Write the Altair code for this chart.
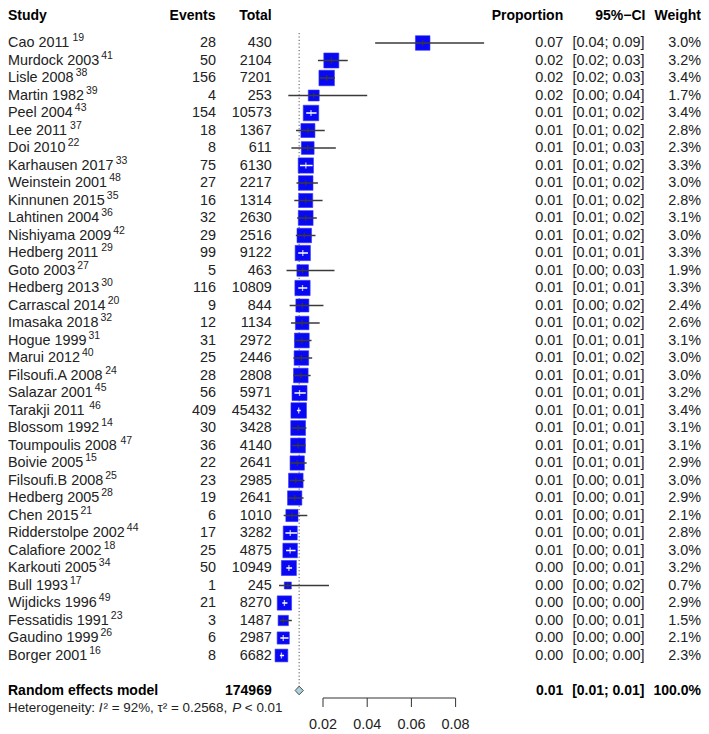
import altair as alt
import pandas as pd
import numpy as np

FONT = "Liberation Sans"

studies = ["Cao 2011", "Murdock 2003", "Lisle 2008", "Martin 1982", "Peel 2004", "Lee 2011",
           "Doi 2010", "Karhausen 2017", "Weinstein 2001", "Kinnunen 2015", "Lahtinen 2004",
           "Nishiyama 2009", "Hedberg 2011", "Goto 2003", "Hedberg 2013", "Carrascal 2014",
           "Imasaka 2018", "Hogue 1999", "Marui 2012", "Filsoufi.A 2008", "Salazar 2001",
           "Tarakji 2011", "Blossom 1992", "Toumpoulis 2008", "Boivie 2005", "Filsoufi.B 2008",
           "Hedberg 2005", "Chen 2015", "Ridderstolpe 2002", "Calafiore 2002", "Karkouti 2005",
           "Bull 1993", "Wijdicks 1996", "Fessatidis 1991", "Gaudino 1999", "Borger 2001"]
refs = ["19", "41", "38", "39", "43", "37", "22", "33", "48", "35", "36", "42", "29", "27", "30",
        "20", "32", "31", "40", "24", "45", "46", "14", "47", "15", "25", "28", "21", "44", "18",
        "34", "17", "49", "23", "26", "16"]
events = [28, 50, 156, 4, 154, 18, 8, 75, 27, 16, 32, 29, 99, 5, 116, 9, 12, 31, 25, 28, 56, 409,
          30, 36, 22, 23, 19, 6, 17, 25, 50, 1, 21, 3, 6, 8]
totals = [430, 2104, 7201, 253, 10573, 1367, 611, 6130, 2217, 1314, 2630, 2516, 9122, 463, 10809,
          844, 1134, 2972, 2446, 2808, 5971, 45432, 3428, 4140, 2641, 2985, 2641, 1010, 3282, 4875,
          10949, 245, 8270, 1487, 2987, 6682]
ci_lower = [0.0436, 0.0177, 0.0184, 0.0043, 0.0124, 0.0078, 0.0057, 0.0096, 0.0080, 0.0070,
            0.0083, 0.0077, 0.0088, 0.0035, 0.0088, 0.0049, 0.0055, 0.0071, 0.0066, 0.0066,
            0.0071, 0.0082, 0.0059, 0.0061, 0.0052, 0.0049, 0.0043, 0.0022, 0.0030, 0.0033,
            0.0034, 0.0001, 0.0016, 0.0004, 0.0007, 0.0005]
ci_upper = [0.0929, 0.0312, 0.0254, 0.0400, 0.0171, 0.0208, 0.0258, 0.0153, 0.0177, 0.0198,
            0.0172, 0.0166, 0.0132, 0.0252, 0.0129, 0.0202, 0.0185, 0.0148, 0.0151, 0.0144,
            0.0122, 0.0099, 0.0125, 0.0121, 0.0126, 0.0116, 0.0112, 0.0129, 0.0083, 0.0076,
            0.0060, 0.0227, 0.0039, 0.0059, 0.0044, 0.0024]
weights = [3.0, 3.2, 3.4, 1.7, 3.4, 2.8, 2.3, 3.3, 3.0, 2.8, 3.1, 3.0, 3.3, 1.9, 3.3, 2.4, 2.6,
           3.1, 3.0, 3.0, 3.2, 3.4, 3.1, 3.1, 2.9, 3.0, 2.9, 2.1, 2.8, 3.0, 3.2, 0.7, 2.9, 1.5,
           2.1, 2.3]

pooled = 0.0092
pooled_lower = 0.0074
pooled_upper = 0.0111
pooled_label = ["0.01", "[0.01; 0.01]", "100.0%"]
het_i2 = "92%"
het_tau2 = "0.2568"
het_p = "0.01"
ticks = [0.02, 0.04, 0.06, 0.08]

# ---------- layout helpers ----------
W, H = 693, 723
X0, X1 = 270.8, 491.8          # pixel range for proportions 0 .. 0.1
PX_PER_UNIT = (X1 - X0) / 0.1
SIZE_MAX = 240                 # square area for weight 3.4

AW = {c: 556 for c in "0123456789"}
AW.update({' ': 278, '.': 278, ',': 278, ':': 278, '%': 889, '=': 584, '<': 584, '²': 333,
           'τ': 480, '-': 333})
AW.update(dict(zip("ABCDEFGHIJKLMNOPQRSTUVWXYZ",
                   [667, 667, 722, 722, 667, 611, 778, 722, 278, 500, 667, 556, 833, 722, 778,
                    667, 778, 722, 667, 611, 722, 667, 944, 667, 667, 611])))
AW.update(dict(zip("abcdefghijklmnopqrstuvwxyz",
                   [556, 556, 500, 556, 556, 278, 556, 556, 222, 222, 500, 222, 833, 556, 556,
                    556, 556, 333, 500, 278, 556, 500, 722, 500, 500, 500])))


def tw(s, size):
    return sum(AW.get(c, 556) for c in s) * size / 1000.0


BODY = 14.4
df = pd.DataFrame({
    "study": studies, "ref": refs, "events": events, "total": totals,
    "lower": ci_lower, "upper": ci_upper, "weight": weights,
})
df["row"] = np.arange(len(df))
df["prop"] = df["events"] / df["total"]
df["prop_txt"] = df["prop"].map(lambda v: f"{v:.2f}")
df["ci_txt"] = [f"[{l:.2f}; {u:.2f}]" for l, u in zip(df["lower"], df["upper"])]
df["w_txt"] = df["weight"].map(lambda v: f"{v:.1f}%")
df["sup_x"] = df["study"].map(lambda s: tw(s, BODY) + 2)
half = np.sqrt(SIZE_MAX / 3.4 * df["weight"]) / 2
inside = ((df["prop"] - df["lower"]) * PX_PER_UNIT <= half) & ((df["upper"] - df["prop"]) * PX_PER_UNIT <= half)
df["ci_col"] = np.where(inside, "white", "#3a3a3a")

RE_ROW, HET_ROW = 37, 38
summ = pd.DataFrame({"row": [RE_ROW], "study": ["Random effects model"],
                     "total": [int(sum(totals))], "prop_txt": [pooled_label[0]],
                     "ci_txt": [pooled_label[1]], "w_txt": [pooled_label[2]]})

YSC = alt.Scale(domain=[0, 38], range=[35, 35 + 17.5 * 38])
Y = alt.Y("row:Q", scale=YSC, axis=None)
XS = alt.Scale(domain=[0, 0.1], range=[X0, X1], nice=False, zero=False)
XPIX = alt.Scale(domain=[0, W], range=[0, W], nice=False, zero=False)


def col(data, field, x, align, bold=False, size=BODY, color="#222"):
    return alt.Chart(data).mark_text(
        align=align, baseline="middle", font=FONT, fontSize=size,
        fontWeight="bold" if bold else "normal", color=color
    ).encode(x=alt.value(x), y=Y, text=field)


layers = []
# study columns
layers += [
    col(df, "study:N", 0, "left"),
    col(df, "events:Q", 208, "right"),
    col(df, "total:Q", 263.7, "right"),
    col(df, "prop_txt:N", 555.2, "right"),
    col(df, "ci_txt:N", 636.5, "right"),
    col(df, "w_txt:N", 693, "right"),
]
# superscript references
layers.append(alt.Chart(df).mark_text(align="left", baseline="middle", font=FONT, fontSize=10.5,
                                      dy=-5, color="#222").encode(
    x=alt.X("sup_x:Q", scale=XPIX, axis=None), y=Y, text="ref:N"))
# summary row
layers += [
    col(summ, "study:N", 0, "left", bold=True, size=14, color="#000"),
    col(summ, "total:Q", 263.7, "right", bold=True, size=14, color="#000"),
    col(summ, "prop_txt:N", 555.2, "right", bold=True, size=14, color="#000"),
    col(summ, "ci_txt:N", 636.5, "right", bold=True, size=14, color="#000"),
    col(summ, "w_txt:N", 693, "right", bold=True, size=14, color="#000"),
]
# headers
hdr = [("Study", 0, "left"), ("Events", 207.5, "right"), ("Total", 263.7, "right"),
       ("Proportion", 555.2, "right"), ("95%\u2212CI", 637.5, "right"), ("Weight", 693, "right")]
for t, x, a in hdr:
    layers.append(alt.Chart(pd.DataFrame({"t": [t]})).mark_text(
        align=a, baseline="top", font=FONT, fontSize=14, fontWeight="bold", color="#000"
    ).encode(x=alt.value(x), y=alt.value(1), text="t:N"))

# heterogeneity line
HS = 13.4
seg1 = "Heterogeneity: "
x_I = tw(seg1, HS)
x_seg2 = x_I + tw("I", HS) + 1
seg2 = f"² = {het_i2}, τ² = {het_tau2}, "
x_P = x_seg2 + tw(seg2, HS)
x_seg3 = x_P + tw("P", HS) + tw(" ", HS)
seg3 = f"< {het_p}"
het_reg = pd.DataFrame({"px": [0, x_seg2, x_seg3], "t": [seg1.strip(), seg2.strip(), seg3],
                        "row": [HET_ROW] * 3})
het_it = pd.DataFrame({"px": [x_I, x_P], "t": ["I", "P"], "row": [HET_ROW] * 2})
layers.append(alt.Chart(het_reg).mark_text(align="left", baseline="middle", font=FONT,
                                           fontSize=HS, color="#222").encode(
    x=alt.X("px:Q", scale=XPIX, axis=None), y=Y, text="t:N"))
layers.append(alt.Chart(het_it).mark_text(align="left", baseline="middle", font=FONT,
                                          fontSize=HS, fontStyle="italic", color="#222").encode(
    x=alt.X("px:Q", scale=XPIX, axis=None), y=Y, text="t:N"))

# dotted reference line at pooled estimate
pool_df = pd.DataFrame({"pooled": [pooled]})
layers.append(alt.Chart(pool_df).mark_rule(color="#555", strokeWidth=1, strokeDash=[1.2, 2.2]).encode(
    x=alt.X("pooled:Q", scale=XS, axis=None), y=alt.value(25), y2=alt.value(679)))

# squares
layers.append(alt.Chart(df).mark_square(opacity=1, color="#0808f2", stroke="#3333ff",
                                        strokeWidth=0.6).encode(
    x=alt.X("prop:Q", scale=XS, axis=None), y=Y,
    size=alt.Size("weight:Q", scale=alt.Scale(domain=[0, 3.4], range=[0, SIZE_MAX], zero=True),
                  legend=None)))
# CI lines
layers.append(alt.Chart(df).mark_rule(strokeWidth=1.5).encode(
    x=alt.X("lower:Q", scale=XS, axis=None), x2="upper:Q", y=Y,
    color=alt.Color("ci_col:N", scale=None)))
layers.append(alt.Chart(df).mark_tick(orient="vertical", size=6, thickness=1.3).encode(
    x=alt.X("prop:Q", scale=XS, axis=None), y=Y,
    color=alt.Color("ci_col:N", scale=None)))

# diamond for the pooled estimate
dia = pd.DataFrame({"x": [pooled_lower, pooled, pooled_upper],
                    "y": [RE_ROW, RE_ROW - 0.245, RE_ROW], "y2": [RE_ROW, RE_ROW + 0.245, RE_ROW]})
layers.append(alt.Chart(dia).mark_area(orient="vertical", fill="#a9d3da", stroke="#4a4a4a",
                                       strokeWidth=1, opacity=1).encode(
    x=alt.X("x:Q", scale=XS, axis=None), y=alt.Y("y:Q", scale=YSC, axis=None), y2="y2:Q"))

# custom x axis
tick_df = pd.DataFrame({"tick": ticks, "lbl": [f"{t:.2f}" for t in ticks]})
axis_line = pd.DataFrame({"a": [min(ticks)], "b": [max(ticks)]})
layers.append(alt.Chart(axis_line).mark_rule(color="#333", strokeWidth=1).encode(
    x=alt.X("a:Q", scale=XS, axis=None), x2="b:Q", y=alt.value(690)))
layers.append(alt.Chart(tick_df).mark_rule(color="#333", strokeWidth=1).encode(
    x=alt.X("tick:Q", scale=XS, axis=None), y=alt.value(690), y2=alt.value(699)))
layers.append(alt.Chart(tick_df).mark_text(baseline="alphabetic", align="center", font=FONT,
                                           fontSize=14.4, color="#222").encode(
    x=alt.X("tick:Q", scale=XS, axis=None), y=alt.value(721), text="lbl:N"))

chart = alt.layer(*layers).resolve_scale(x="independent").properties(
    width=W, height=H, padding=0, autosize=alt.AutoSizeParams(type="none"),
    background="white"
).configure_view(stroke=None)

chart.save("out.html", embed_options={"renderer": "svg", "actions": False})
